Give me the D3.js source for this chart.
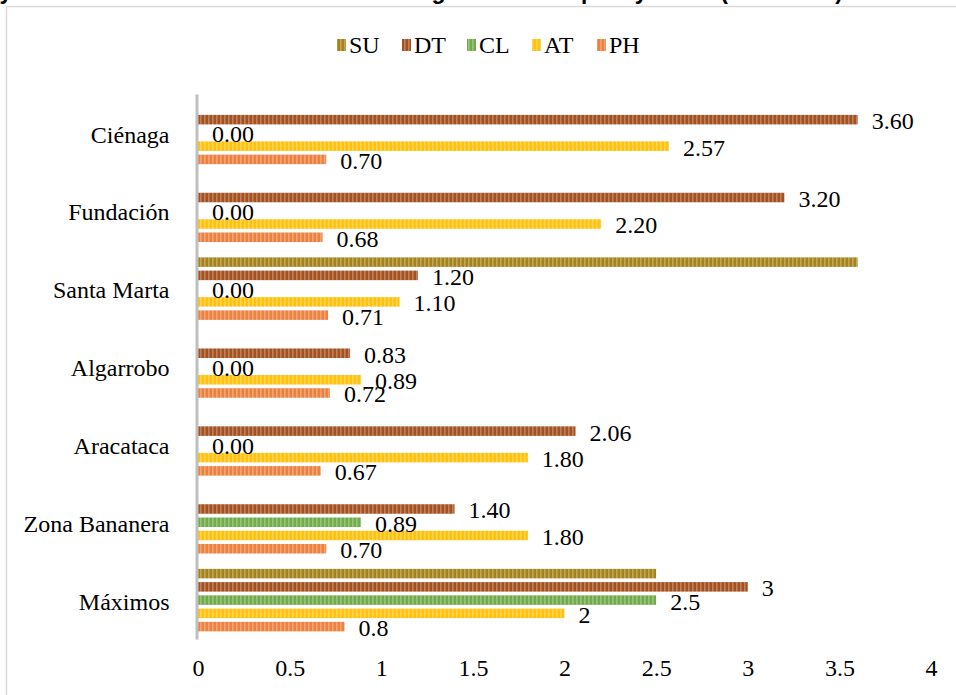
<!DOCTYPE html>
<html>
<head>
<meta charset="utf-8">
<script src="https://cdn.jsdelivr.net/npm/d3@7"></script>
<style>
  html, body { margin: 0; padding: 0; background: #fff; overflow: hidden; }
  svg { display: block; }
</style>
</head>
<body>
<svg id="chart" width="956" height="695"></svg>
<script>
// ---- data ----
const categories = ["Ciénaga", "Fundación", "Santa Marta", "Algarrobo", "Aracataca", "Zona Bananera", "Máximos"];
const seriesNames = ["SU", "DT", "CL", "AT", "PH"];
const SU = [0, 0, 3.6, 0, 0, 0, 2.5];
const DT = [3.60, 3.20, 1.20, 0.83, 2.06, 1.40, 3];
const CL = [0.00, 0.00, 0.00, 0.00, 0.00, 0.89, 2.5];
const AT = [2.57, 2.20, 1.10, 0.89, 1.80, 1.80, 2];
const PH = [0.70, 0.68, 0.71, 0.72, 0.67, 0.70, 0.8];
const labelledSeries = ["DT", "CL", "AT", "PH"];
const generalFormatCategories = ["Máximos"];
const xTicks = [0, 0.5, 1, 1.5, 2, 2.5, 3, 3.5, 4];
const titleText = "Physicochemical characteristics of the irrigation water quality index (SU-DT-CL) source";

const seriesValues = { SU, DT, CL, AT, PH };
const colors = { SU: "#a6831a", DT: "#a4511f", CL: "#72ac4a", AT: "#ffc20e", PH: "#ec8140" };

const serif = "Liberation Serif, Times New Roman, serif";

// ---- layout ----
const svg = d3.select("#chart");

// frame
svg.append("rect").attr("x", 6.5).attr("y", 6.5).attr("width", 980).attr("height", 720)
  .attr("fill", "none").attr("stroke", "#d9d9d9").attr("stroke-width", 1.5);

// title (cut off at the top edge, as in the reference)
svg.append("text").attr("x", -30).attr("y", -1)
  .attr("font-family", "Liberation Sans, Arial, sans-serif").attr("font-weight", "bold")
  .attr("font-size", 23).attr("fill", "#000").text(titleText);

// patterns
const defs = svg.append("defs");
seriesNames.forEach(s => {
  const p = defs.append("pattern").attr("id", "pat-" + s).attr("patternUnits", "userSpaceOnUse")
    .attr("width", 4).attr("height", 4);
  p.append("rect").attr("width", 4).attr("height", 4).attr("fill", colors[s]);
  p.append("rect").attr("x", 0).attr("width", 1.6).attr("height", 4).attr("fill", "#fff").attr("opacity", 0.28);
});

const x = d3.scaleLinear().domain([0, 4]).range([198, 931]);
const y = d3.scaleBand().domain(categories).range([94, 639]).paddingInner(0.197).paddingOuter(0.098);
const ySub = d3.scaleBand().domain(seriesNames).range([0, y.bandwidth()]).paddingInner(0.28).paddingOuter(0.0);

// bars
const g = svg.append("g");
categories.forEach((c, i) => {
  seriesNames.forEach(s => {
    const v = seriesValues[s][i];
    g.append("rect")
      .attr("x", x(0))
      .attr("y", y(c) + ySub(s))
      .attr("width", x(v) - x(0))
      .attr("height", ySub.bandwidth())
      .attr("fill", "url(#pat-" + s + ")");
  });
});

// data labels
const fmt2 = d3.format(".2f");
const fmtG = d3.format("~g");
categories.forEach((c, i) => {
  labelledSeries.forEach(s => {
    const v = seriesValues[s][i];
    const f = generalFormatCategories.includes(c) ? fmtG : fmt2;
    g.append("text")
      .attr("x", x(v) + 14)
      .attr("y", y(c) + ySub(s) + ySub.bandwidth() / 2 + 1)
      .attr("dy", "0.35em")
      .attr("font-family", serif)
      .attr("font-size", 24)
      .attr("fill", "#000")
      .text(f(v));
  });
});

// category axis
const yAxis = d3.axisLeft(y).tickSize(0).tickPadding(27);
const ya = svg.append("g").attr("transform", "translate(196.5,0)").call(yAxis);
ya.select(".domain").attr("stroke", "#bfbfbf").attr("stroke-width", 3);
ya.selectAll("text").attr("font-family", serif)
  .attr("font-size", 24).attr("fill", "#000").attr("dy", "0.4em");

// value axis
const xAxis = d3.axisBottom(x).tickValues(xTicks).tickFormat(d3.format("~g")).tickSize(0).tickPadding(20);
const xa = svg.append("g").attr("transform", "translate(0,639)").call(xAxis);
xa.select(".domain").remove();
xa.selectAll("text").attr("font-family", serif)
  .attr("font-size", 24).attr("fill", "#000");

// legend
const legendX = [337, 402, 467, 532, 597];
const lg = svg.append("g");
seriesNames.forEach((s, i) => {
  lg.append("rect").attr("x", legendX[i]).attr("y", 39).attr("width", 9).attr("height", 12)
    .attr("fill", "url(#pat-" + s + ")");
  lg.append("text").attr("x", legendX[i] + 12).attr("y", 45).attr("dy", "0.35em")
    .attr("font-family", serif).attr("font-size", 24)
    .attr("fill", "#000").text(s);
});
</script>
</body>
</html>
